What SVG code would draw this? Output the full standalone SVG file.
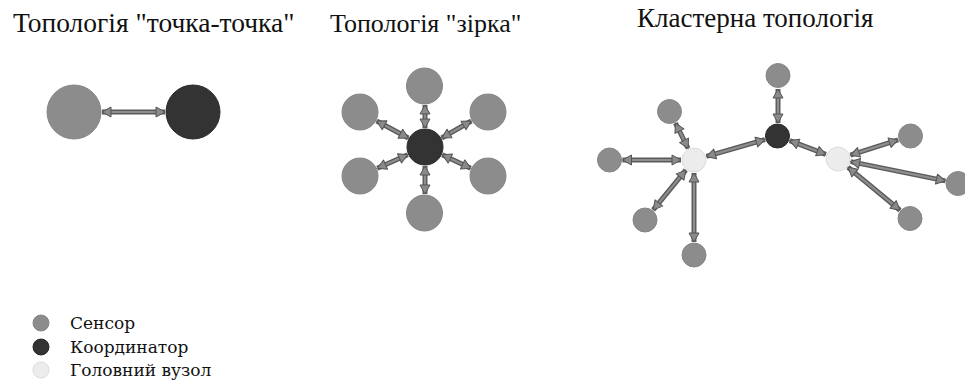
<svg xmlns="http://www.w3.org/2000/svg" width="965" height="381" viewBox="0 0 965 381">
<defs>
<style>
.t{fill:#111}
.title{font-family:"Liberation Serif","Times New Roman",serif;font-size:26px}
.leg{font-family:"DejaVu Serif","Liberation Serif",serif;font-size:17px}
.s{fill:#8c8c8c;stroke:#868686;stroke-width:1}
.c{fill:#333333;stroke:#2a2a2a;stroke-width:1}
.h{fill:#ececec;stroke:#dcdcdc;stroke-width:1}
.ao{stroke:#5a5a5a;stroke-width:5;fill:none}
.ai{stroke:#8e8e8e;stroke-width:2.2;fill:none;marker-start:url(#ah);marker-end:url(#ah)}
</style>
<marker id="ah" markerUnits="userSpaceOnUse" markerWidth="12" markerHeight="12" refX="9" refY="5" orient="auto-start-reverse" overflow="visible">
<path d="M0,0 L9,5 L0,10 Z" fill="#8a8a8a" stroke="#555555" stroke-width="1" stroke-linejoin="round"/>
</marker>
</defs>
<rect width="965" height="381" fill="#ffffff"/>

<g id="titles">
<text class="t title" x="13" y="32" style="font-size:27.5px">Топологія "точка-точка"</text>
<text class="t title" x="330" y="32">Топологія "зірка"</text>
<text class="t title" x="637" y="27" style="font-size:27px">Кластерна топологія</text>
</g>

<g id="connectors">
<g id="p2p-links">
<line class="ao" x1="102" y1="112" x2="165" y2="112"/><line class="ai" x1="102" y1="112" x2="165" y2="112"/>
</g>
<g id="star-links">
<line class="ao" x1="425" y1="128" x2="425" y2="105"/><line class="ai" x1="425" y1="128" x2="425" y2="105"/>
<line class="ao" x1="425" y1="166" x2="425" y2="194"/><line class="ai" x1="425" y1="166" x2="425" y2="194"/>
<line class="ao" x1="408.3" y1="138" x2="376.7" y2="121"/><line class="ai" x1="408.3" y1="138" x2="376.7" y2="121"/>
<line class="ao" x1="441.7" y1="138" x2="471.3" y2="121"/><line class="ai" x1="441.7" y1="138" x2="471.3" y2="121"/>
<line class="ao" x1="407.7" y1="154.7" x2="377.3" y2="168.3"/><line class="ai" x1="407.7" y1="154.7" x2="377.3" y2="168.3"/>
<line class="ao" x1="442.3" y1="154.7" x2="470.7" y2="168.3"/><line class="ai" x1="442.3" y1="154.7" x2="470.7" y2="168.3"/>
</g>
<g id="cluster-links">
<line class="ao" x1="778" y1="123" x2="778" y2="89"/><line class="ai" x1="778" y1="123" x2="778" y2="89"/>
<line class="ao" x1="765" y1="139.6" x2="706.5" y2="156.4"/><line class="ai" x1="765" y1="139.6" x2="706.5" y2="156.4"/>
<line class="ao" x1="789.7" y1="140.6" x2="825.8" y2="154.4"/><line class="ai" x1="789.7" y1="140.6" x2="825.8" y2="154.4"/>
<line class="ao" x1="688.1" y1="148.4" x2="675.4" y2="123.1"/><line class="ai" x1="688.1" y1="148.4" x2="675.4" y2="123.1"/>
<line class="ao" x1="681" y1="160" x2="622.5" y2="160"/><line class="ai" x1="681" y1="160" x2="622.5" y2="160"/>
<line class="ao" x1="685.8" y1="170.1" x2="653.2" y2="209.9"/><line class="ai" x1="685.8" y1="170.1" x2="653.2" y2="209.9"/>
<line class="ao" x1="694" y1="173" x2="694" y2="242"/><line class="ai" x1="694" y1="173" x2="694" y2="242"/>
<line class="ao" x1="850.4" y1="155.1" x2="898.1" y2="139.9"/><line class="ai" x1="850.4" y1="155.1" x2="898.1" y2="139.9"/>
<line class="ao" x1="850.7" y1="161.6" x2="945.3" y2="180.9"/><line class="ai" x1="850.7" y1="161.6" x2="945.3" y2="180.9"/>
<line class="ao" x1="848" y1="167.3" x2="900" y2="210.2"/><line class="ai" x1="848" y1="167.3" x2="900" y2="210.2"/>
</g>
</g>

<g id="p2p-sensor"><circle class="s" cx="74" cy="112" r="27"/></g>
<g id="p2p-coordinator"><circle class="c" cx="193" cy="112" r="27"/></g>

<g id="star-coordinator"><circle class="c" cx="425" cy="147" r="18"/></g>
<g id="star-s-top"><circle class="s" cx="424.5" cy="86" r="18"/></g>
<g id="star-s-ul"><circle class="s" cx="360" cy="112" r="18"/></g>
<g id="star-s-ur"><circle class="s" cx="488" cy="112" r="18"/></g>
<g id="star-s-ll"><circle class="s" cx="360" cy="176" r="18"/></g>
<g id="star-s-lr"><circle class="s" cx="488" cy="176" r="18"/></g>
<g id="star-s-bottom"><circle class="s" cx="424.5" cy="213" r="18"/></g>

<g id="cl-coordinator"><circle class="c" cx="777.5" cy="136" r="12"/></g>
<g id="cl-s-top"><circle class="s" cx="778" cy="75.5" r="12"/></g>
<g id="cl-head-left"><circle class="h" cx="694" cy="160" r="12"/></g>
<g id="cl-head-right"><circle class="h" cx="838" cy="159" r="12"/></g>
<g id="cl-s-tl"><circle class="s" cx="669.5" cy="111.5" r="12"/></g>
<g id="cl-s-left"><circle class="s" cx="609.5" cy="160" r="12"/></g>
<g id="cl-s-ll"><circle class="s" cx="645" cy="220" r="12"/></g>
<g id="cl-s-bottom"><circle class="s" cx="694" cy="255" r="12"/></g>
<g id="cl-s-ur"><circle class="s" cx="910.5" cy="136" r="12"/></g>
<g id="cl-s-fr"><circle class="s" cx="958" cy="183.5" r="12"/></g>
<g id="cl-s-lr"><circle class="s" cx="910" cy="218.5" r="12"/></g>

<g id="legend">
<circle class="s" cx="41" cy="323" r="8"/>
<text class="t leg" x="70" y="329">Сенсор</text>
<circle class="c" cx="41" cy="347" r="8"/>
<text class="t leg" x="70" y="353">Координатор</text>
<circle class="h" cx="41" cy="370" r="8"/>
<text class="t leg" x="70" y="376">Головний вузол</text>
</g>
</svg>
